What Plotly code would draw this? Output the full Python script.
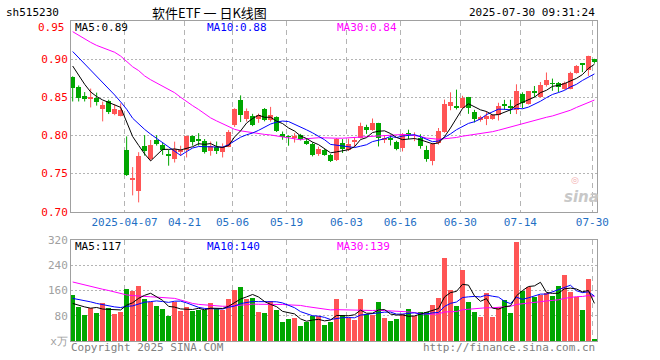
import plotly.graph_objects as go

# ---------------- data ----------------
opens = [0.8770, 0.8630, 0.8513, 0.8483, 0.8487, 0.8350, 0.8445, 0.8286, 0.8260, 0.7812,
         0.7410, 0.7268, 0.7867, 0.7693, 0.7938, 0.7877, 0.7755, 0.7687, 0.7790, 0.7813,
         0.7996, 0.7957, 0.7930, 0.7800, 0.7848, 0.7777, 0.7848, 0.8138, 0.8467, 0.8218,
         0.8259, 0.8218, 0.8340, 0.8208, 0.8237, 0.8016, 0.7990, 0.7966, 0.8009, 0.7930,
         0.7882, 0.7757, 0.7813, 0.7748, 0.7680, 0.7906, 0.7810, 0.7908, 0.7962, 0.8112,
         0.8075, 0.8163, 0.7935, 0.7955, 0.7920, 0.7830, 0.8035, 0.7995, 0.7966, 0.7813,
         0.7660, 0.7900, 0.8050, 0.8380, 0.8390, 0.8362, 0.8498, 0.8313, 0.8198, 0.8210,
         0.8220, 0.8270, 0.8405, 0.8375, 0.8330, 0.8545, 0.8415, 0.8570, 0.8505, 0.8665,
         0.8685, 0.8685, 0.8615, 0.8615, 0.8822, 0.8935, 0.8855, 0.9000]
highs = [0.8775, 0.8655, 0.8568, 0.8614, 0.8561, 0.8443, 0.8468, 0.8411, 0.8420, 0.7987,
         0.7585, 0.7780, 0.8005, 0.7940, 0.8005, 0.7905, 0.7811, 0.7918, 0.7865, 0.7998,
         0.8000, 0.8030, 0.7953, 0.7920, 0.7920, 0.7895, 0.8070, 0.8356, 0.8525, 0.8353,
         0.8283, 0.8286, 0.8359, 0.8374, 0.8250, 0.8051, 0.8000, 0.8030, 0.8020, 0.7955,
         0.7909, 0.7853, 0.7820, 0.7757, 0.7965, 0.7952, 0.7958, 0.7968, 0.8167, 0.8140,
         0.8222, 0.8165, 0.8005, 0.8012, 0.7930, 0.8030, 0.8075, 0.8040, 0.8015, 0.7865,
         0.7900, 0.8097, 0.8470, 0.8565, 0.8600, 0.8520, 0.8505, 0.8335, 0.8258, 0.8315,
         0.8280, 0.8428, 0.8467, 0.8468, 0.8670, 0.8565, 0.8582, 0.8648, 0.8700, 0.8825,
         0.8745, 0.8700, 0.8705, 0.8835, 0.8922, 0.8945, 0.9045, 0.9005]
lows = [0.8445, 0.8445, 0.8445, 0.8367, 0.8391, 0.8184, 0.8280, 0.8265, 0.8250, 0.7468,
        0.7214, 0.7122, 0.7735, 0.7670, 0.7866, 0.7745, 0.7603, 0.7645, 0.7733, 0.7711,
        0.7866, 0.7866, 0.7762, 0.7734, 0.7756, 0.7711, 0.7845, 0.8112, 0.8175, 0.8182,
        0.8122, 0.8165, 0.8185, 0.8180, 0.8045, 0.7943, 0.7865, 0.7906, 0.7935, 0.7876,
        0.7725, 0.7732, 0.7733, 0.7651, 0.7665, 0.7770, 0.7795, 0.7850, 0.7960, 0.8020,
        0.8060, 0.7855, 0.7900, 0.7868, 0.7805, 0.7790, 0.7953, 0.7925, 0.7826, 0.7655,
        0.7608, 0.7880, 0.8035, 0.8330, 0.8340, 0.8355, 0.8283, 0.8170, 0.8180, 0.8135,
        0.8205, 0.8195, 0.8335, 0.8280, 0.8280, 0.8355, 0.8405, 0.8500, 0.8495, 0.8640,
        0.8585, 0.8565, 0.8600, 0.8605, 0.8810, 0.8830, 0.8780, 0.8943]
closes = [0.8626, 0.8496, 0.8487, 0.8495, 0.8443, 0.8402, 0.8310, 0.8350, 0.8335, 0.7487,
          0.7446, 0.7727, 0.7791, 0.7878, 0.7884, 0.7808, 0.7724, 0.7821, 0.7810, 0.7996,
          0.7909, 0.7921, 0.7778, 0.7863, 0.7800, 0.7846, 0.8050, 0.8340, 0.8262, 0.8314,
          0.8140, 0.8272, 0.8198, 0.8271, 0.8053, 0.7983, 0.7984, 0.7995, 0.7948, 0.7888,
          0.7747, 0.7818, 0.7747, 0.7660, 0.7948, 0.7828, 0.7882, 0.7942, 0.8128, 0.8075,
          0.8162, 0.7966, 0.7970, 0.7950, 0.7820, 0.8018, 0.8005, 0.8003, 0.7865, 0.7694,
          0.7886, 0.8053, 0.8415, 0.8440, 0.8368, 0.8487, 0.8365, 0.8220, 0.8237, 0.8258,
          0.8262, 0.8388, 0.8398, 0.8370, 0.8576, 0.8420, 0.8578, 0.8565, 0.8665, 0.8730,
          0.8680, 0.8638, 0.8685, 0.8822, 0.8913, 0.8930, 0.9042, 0.8958]
volumes = [146, 108, 82, 106, 89, 121, 105, 85, 92, 165,
           159, 175, 133, 124, 111, 101, 79, 122, 95, 108,
           95, 98, 98, 121, 100, 98, 133, 162, 172, 134,
           136, 93, 90, 127, 98, 61, 69, 74, 48, 61,
           80, 80, 50, 61, 134, 82, 73, 66, 134, 85,
           82, 124, 73, 63, 69, 85, 101, 79, 92, 92,
           114, 137, 262, 162, 111, 226, 124, 92, 76, 153,
           76, 108, 130, 89, 313, 159, 172, 140, 146, 153,
           143, 175, 210, 156, 140, 98, 197, 5]

# moving-average values before a full window exists
ma5_head = [0.891, 0.879, 0.867, 0.857]
ma10_head = [0.910, 0.902, 0.894, 0.886, 0.878, 0.870, 0.862, 0.853, 0.844]
ma30_head = [0.936, 0.931, 0.926, 0.922, 0.918, 0.915, 0.912, 0.909, 0.904, 0.897,
             0.890, 0.885, 0.878, 0.873, 0.869, 0.865, 0.861, 0.856, 0.850, 0.844,
             0.839, 0.834, 0.828, 0.823, 0.819, 0.815, 0.811, 0.808, 0.806]
vma5_head = [119, 113, 108, 104]
vma10_head = [135, 132, 127, 124, 119, 115, 111, 108, 106]
vma30_head = [187, 182, 177, 172, 168, 164, 160, 155, 150, 146,
              144, 142, 141, 140, 139, 138, 137, 135, 130, 124,
              119, 116, 114, 113, 111, 110, 110, 112, 114]

tick_idx = [9, 19, 27, 36, 46, 55, 65, 75, 87]
tick_labels = ["2025-04-07", "04-21", "05-06", "05-19", "06-03", "06-16", "06-30", "07-14", "07-30"]
price_ticks = [0.70, 0.75, 0.80, 0.85, 0.90, 0.95]
vol_ticks = [0, 80, 160, 240, 320]
vol_tick_text = ["x万", "80", "160", "240", "320"]

header_code = "sh515230"
title_text = "软件ETF 一 日K线图"
time_text = "2025-07-30 09:31:24"
price_ma_labels = ["MA5:0.89", "MA10:0.88", "MA30:0.84"]
vol_ma_labels = ["MA5:117", "MA10:140", "MA30:139"]


def moving_avg(vals, n, head):
    out = list(head)
    for i in range(len(head), len(vals)):
        out.append(sum(vals[i - n + 1:i + 1]) / n)
    return out


ma5 = moving_avg(closes, 5, ma5_head)
ma10 = moving_avg(closes, 10, ma10_head)
ma30 = moving_avg(closes, 30, ma30_head)
vma5 = moving_avg(volumes, 5, vma5_head)
vma10 = moving_avg(volumes, 10, vma10_head)
vma30 = moving_avg(volumes, 30, vma30_head)

# ---------------- styling ----------------
RED = "#ff5555"
GREEN = "#00a600"
GRID = "#b4b4b4"
BORDER = "#a0a0a0"
MONO = "DejaVu Sans Mono"

Wpx, Hpx = 660, 360
L, R, T, B = 71, 63, 21, 19
PW = Wpx - L - R
PH = Hpx - T - B


def px(x):
    return (x - L) / PW


def py(y):
    return (Hpx - B - y) / PH


n = len(closes)
idx = list(range(n))
up = [closes[i] >= opens[i] for i in idx]

fig = go.Figure()

# wicks
for flag, col in ((True, RED), (False, GREEN)):
    xs, ys = [], []
    for i in idx:
        if up[i] == flag:
            xs += [i, i, None]
            ys += [lows[i], highs[i], None]
    fig.add_trace(go.Scatter(x=xs, y=ys, mode="lines", line=dict(color=col, width=1),
                             hoverinfo="skip", showlegend=False, xaxis="x", yaxis="y"))

# bodies
for flag, col in ((True, RED), (False, GREEN)):
    bx, bb, bh = [], [], []
    for i in idx:
        if up[i] == flag:
            bx.append(i)
            bb.append(min(opens[i], closes[i]))
            bh.append(max(abs(closes[i] - opens[i]), 0.0007))
    fig.add_trace(go.Bar(x=bx, y=bh, base=bb, width=0.8, marker=dict(color=col, line=dict(width=0)),
                         showlegend=False, xaxis="x", yaxis="y"))

# price MAs
for vals, col in ((ma30, "#ff00ff"), (ma10, "#0000ff"), (ma5, "#000000")):
    fig.add_trace(go.Scatter(x=idx, y=vals, mode="lines", line=dict(color=col, width=1),
                             showlegend=False, xaxis="x", yaxis="y"))

# volume bars
fig.add_trace(go.Bar(x=idx, y=volumes, width=0.8,
                     marker=dict(color=[RED if u else GREEN for u in up], line=dict(width=0)),
                     showlegend=False, xaxis="x2", yaxis="y2"))
for vals, col in ((vma30, "#ff00ff"), (vma10, "#0000ff"), (vma5, "#000000")):
    fig.add_trace(go.Scatter(x=idx, y=vals, mode="lines", line=dict(color=col, width=1),
                             showlegend=False, xaxis="x2", yaxis="y2"))

xr = [-0.28, n - 1 + 0.43]
grid_x = [t - 0.35 for t in tick_idx]

common_x = dict(range=xr, showgrid=True, gridcolor=GRID, griddash="5px,4px", gridwidth=1,
                showline=True, mirror=True, linecolor=BORDER, linewidth=1, zeroline=False,
                tickvals=grid_x, ticks="", fixedrange=True)

# top price label is drawn a little lower (inside the box) like the reference
price_tick_text = [f"{v:.2f}" for v in price_ticks[:-1]] + [""]

fig.update_layout(
    width=Wpx, height=Hpx,
    margin=dict(l=L, r=R, t=T, b=B),
    paper_bgcolor="white", plot_bgcolor="white",
    barmode="overlay", bargap=0,
    showlegend=False,
    xaxis=dict(domain=[0, 1], anchor="y", ticktext=tick_labels,
               tickfont=dict(family=MONO, size=11, color="#1f6fc4"), **common_x),
    xaxis2=dict(domain=[0, 1], anchor="y2", showticklabels=False, **common_x),
    yaxis=dict(domain=[py(211.7), 1], range=[0.70, 0.95], tickvals=price_ticks,
               ticktext=price_tick_text,
               tickfont=dict(family=MONO, size=11, color="#ff0000"),
               showgrid=True, gridcolor=GRID, griddash="2px,2px", gridwidth=1,
               showline=True, mirror=True, linecolor=BORDER, linewidth=1, zeroline=False,
               ticks="", fixedrange=True),
    yaxis2=dict(domain=[0, py(240)], range=[0, 320], tickvals=vol_ticks, ticktext=vol_tick_text,
                tickfont=dict(family=MONO, size=11, color="#a0a0a0"),
                showgrid=True, gridcolor=GRID, griddash="2px,2px", gridwidth=1,
                showline=True, mirror=True, linecolor=BORDER, linewidth=1, zeroline=False,
                ticks="", fixedrange=True),
)

ann = []


def text(x, y, s, color="#000000", size=11, anchor="left", family=MONO):
    ann.append(dict(x=px(x), y=py(y), xref="paper", yref="paper", text=s, showarrow=False,
                    xanchor=anchor, yanchor="middle",
                    font=dict(family=family, size=size, color=color)))


text(4, 12, header_code)
text(209, 12, title_text, size=13, anchor="center", family="Noto Sans CJK SC")
text(597, 12, time_text, anchor="right")
text(67, 27, f"{price_ticks[-1]:.2f}", color="#ff0000", anchor="right")
ma_cols = ["#000000", "#0000ff", "#ff00ff"]
for xpos, s, c in zip((73, 205, 335), price_ma_labels, ma_cols):
    text(xpos, 27, s, color=c)
for xpos, s, c in zip((73, 205, 335), vol_ma_labels, ma_cols):
    text(xpos, 246.5, s, color=c)
text(69, 347, "Copyright 2025 SINA.COM", color="#808080")
text(597, 347, "http://finance.sina.com.cn", color="#808080", anchor="right")
ann.append(dict(x=px(581), y=py(197), xref="paper", yref="paper", text="<b><i>sina</i></b>",
                showarrow=False, xanchor="center", yanchor="middle",
                font=dict(family="DejaVu Sans", size=15, color="#c8c8c8")))
ann.append(dict(x=px(575), y=py(180), xref="paper", yref="paper", text="◎",
                showarrow=False, xanchor="center", yanchor="middle",
                font=dict(family="DejaVu Sans", size=9, color="#f3b0b0")))
fig.update_layout(annotations=ann)

fig.write_html("out.html", config={"displayModeBar": False},
               post_script="document.body.style.margin='0';document.body.style.padding='0';")
